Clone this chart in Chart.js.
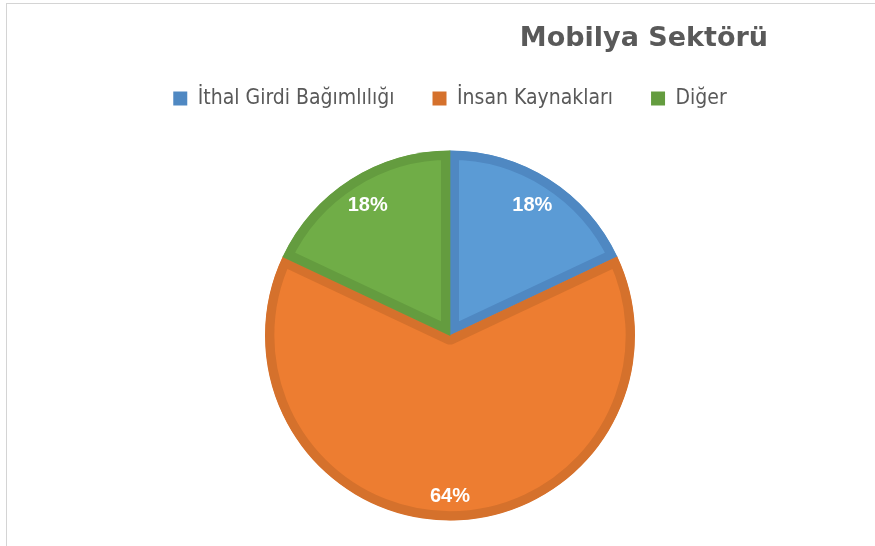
<!DOCTYPE html>
<html>
<head>
<meta charset="utf-8">
<script src="https://cdn.jsdelivr.net/npm/chart.js@4/dist/chart.umd.min.js"></script>
<style>
  html, body { margin: 0; padding: 0; background: #fff; overflow: hidden; }
  #wrap { position: relative; width: 875px; height: 546px; overflow: hidden; }
  #frame { position: absolute; left: 6px; top: 3px; right: 0; bottom: 0; border-left: 1px solid #d4d4d4; border-top: 1px solid #d4d4d4; }
  canvas { position: absolute; left: 0; top: 0; }
</style>
</head>
<body>
<div id="wrap">
  <div id="frame"></div>
  <canvas id="pieChart" width="875" height="560"></canvas>
</div>
<script>
// dilimler
const categories = ['İthal Girdi Bağımlılığı', 'İnsan Kaynakları', 'Diğer'];
const values = [18, 64, 18];

const fillColors = ['#5B9BD5', '#ED7D31', '#70AD47'];
const borderColors = ['#4F88C2', '#D5712C', '#649C3F'];

// yüzde etiketlerini dilimin içine yaz
const pctLabels = {
    id: 'pctLabels',
    afterDatasetsDraw(chart, args, opts) {
        const ctx = chart.ctx;
        const meta = chart.getDatasetMeta(0);
        const data = chart.data.datasets[0].data;
        const total = data.reduce((a, b) => a + b, 0);
        ctx.save();
        ctx.fillStyle = '#ffffff';
        ctx.font = 'bold 20px "Liberation Sans", Arial, sans-serif';
        ctx.textAlign = 'center';
        ctx.textBaseline = 'middle';
        meta.data.forEach((arc, i) => {
            const p = arc.getProps(['x', 'y', 'startAngle', 'endAngle', 'outerRadius'], true);
            const mid = (p.startAngle + p.endAngle) / 2;
            const r = p.outerRadius * opts.pos[i];
            const txt = Math.round(data[i] / total * 100) + '%';
            ctx.fillText(txt, p.x + Math.cos(mid) * r, p.y + Math.sin(mid) * r);
        });
        ctx.restore();
    }
};

const ctx = document.getElementById('pieChart').getContext('2d');
new Chart(ctx, {
    type: 'pie',
    data: {
        labels: categories,
        datasets: [{
            data: values,
            backgroundColor: fillColors,
            borderColor: borderColors,
            borderWidth: 9,
            borderAlign: 'inner',
            radius: 185
        }]
    },
    plugins: [pctLabels],
    options: {
        responsive: false,
        animation: false,
        layout: {
            padding: { top: 0, left: 132, right: 107, bottom: 8 }
        },
        plugins: {
            title: {
                display: true,
                text: 'Mobilya Sektörü',
                align: 'end',
                color: '#595959',
                font: { family: '"DejaVu Sans", sans-serif', size: 27, weight: 'bold', lineHeight: 1.2 },
                padding: { top: 22.5, bottom: -4.9 }
            },
            legend: {
                display: true,
                position: 'top',
                labels: {
                    color: '#595959',
                    font: { family: '"DejaVu Sans Condensed", sans-serif', size: 21 },
                    boxWidth: 14,
                    boxHeight: 14,
                    padding: 38,
                    generateLabels(chart) {
                        const items = Chart.overrides.pie.plugins.legend.labels.generateLabels(chart);
                        return items.map((it, i) => Object.assign(it, {
                            fillStyle: borderColors[i],
                            strokeStyle: borderColors[i],
                            lineWidth: 0
                        }));
                    }
                }
            },
            tooltip: { enabled: false },
            pctLabels: { pos: [0.83, 0.87, 0.83] }
        }
    }
});
</script>
</body>
</html>
